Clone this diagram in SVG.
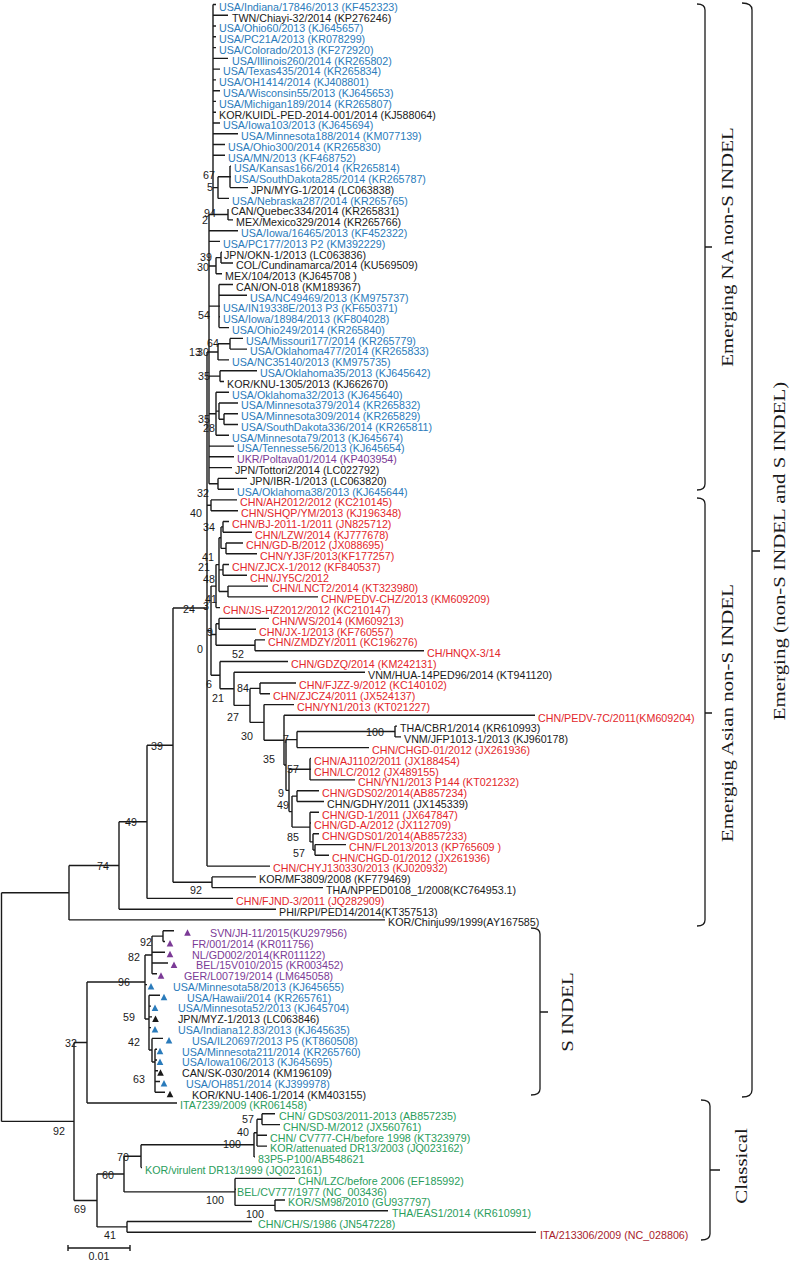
<svg xmlns="http://www.w3.org/2000/svg" width="790" height="1261" viewBox="0 0 790 1261">
<style>
text{font-family:"Liberation Sans",Arial,sans-serif;font-size:10.7px}
.b{fill:#2a7bbb}.r{fill:#e3262b}.k{fill:#1a1a1a}.p{fill:#7b3a96}.g{fill:#2a9d5c}.d{fill:#a81c2c}
.bs text{fill:#1a1a1a}
.clade{font-family:"Liberation Serif","Times New Roman",serif;font-size:17px;fill:#1a1a1a}
.tree{fill:none;stroke:#1a1a1a;stroke-width:1.4}
.br{fill:none;stroke:#1a1a1a;stroke-width:1.3}
</style>
<defs><polygon id="tri" points="-3.3,5 3.3,5 0,-1.5"/></defs>
<rect width="790" height="1261" fill="#fff"/>
<g id="connectors">
<path class="tree" d="M213,4.5V214.5 M213,4.5H216 M213,15.3H228 M213,26H216 M213,36.8H216 M213,47.6H216 M213,58.4H228 M213,69.1H220 M213,79.9H216 M213,90.7H220 M213,101.4H216 M213,112.2H216 M213,123H220 M213,133.7H238 M213,144.5H225 M213,155.3H225
M213,187.6H218 M218,176.8V198.4 M218,176.8H230 M230,166.1V187.6 M230,166.1H231 M230,176.8H231 M230,187.6H248 M218,198.4H229
M209,214.5H228 M228,209.1V219.9 M228,219.9H233
M209,214.5V483.8 M209,230.7H238 M209,241.4H220
M209,266H216 M216,257.6V273.8 M216,257.6H221 M221,252.2V263 M221,252.2H222 M221,263H233 M216,273.8H222
M209,306.1H219 M219,284.5V327.6 M219,284.5H233 M219,295.3H247 M219,306.1H220 M219,316.8H220 M219,327.6H229
M207,352H218 M218,343.8V359.9 M218,343.8H230 M230,338.4V349.1 M230,338.4H243 M230,349.1H247 M218,359.9H229
M209,376.1H220 M220,370.7V381.5 M220,370.7H257 M220,381.5H224
M209,413.8H216 M216,392.2V435.3 M216,392.2H229 M216,411.1H219 M219,403V419.2 M219,403H238 M219,419.2H224 M224,413.8V424.5 M224,413.8H238 M224,424.5H238 M216,435.3H229
M209,446.1H234 M209,456.8H234 M209,467.6H232
M209,483.8H218 M218,478.4V489.2 M218,478.4H247 M218,489.2H234
M207,352V866.1
M207,505.3H211 M211,499.9V510.7 M211,499.9H237 M211,510.7H238
M207,630.6H211 M211,586.1V675.2
M211,586.1H216 M216,564.6V607.6 M216,564.6H219 M219,537.7V591.5 M219,537.7H221 M221,526.9V548.4 M221,526.9H223 M223,521.5V532.2 M223,521.5H229 M223,532.2H252 M221,548.4H226 M226,543V553.8 M226,543H243 M226,553.8H257
M219,569.9H223 M223,564.5V575.3 M223,564.5H229 M223,575.3H247
M219,591.5H228 M228,586.1V596.9 M228,586.1H268 M228,596.9H318
M216,607.6H220
M211,634.5H216 M216,623.8V645.3 M216,623.8H219 M219,618.4V629.2 M219,618.4H269 M219,629.2H256 M216,645.3H255 M255,639.9V650.7 M255,639.9H265 M255,650.7H424
M211,675.2H220 M220,661.5V688.8 M220,661.5H288 M220,688.8H234 M234,672.2V705.4 M234,672.2H365 M234,705.4H250 M250,688.4V722.4 M250,688.4H260 M260,683V693.8 M260,683H296 M260,693.8H270
M250,722.4H264 M264,704.6V740.2 M264,704.6H294 M264,740.2H284 M284,715.3V765 M284,715.3H535
M284,765H286 M286,739.6V790.4 M286,739.6H297 M297,731.5V747.6 M297,731.5H395 M395,726.1V736.9 M395,726.1H397 M395,736.9H401 M297,747.6H369
M286,790.4H289 M289,769.2V811.6 M289,769.2H310 M310,758.4V779.9 M310,758.4H311 M310,769.2H311 M310,779.9H355
M289,811.6H292 M292,796.1V827.1 M292,796.1H297 M297,790.7V801.5 M297,790.7H319 M297,801.5H324
M292,827.1H310 M310,812.3V841.9 M310,812.3H319 M310,823H311 M310,841.9H313 M313,833.8V850 M313,833.8H319 M313,850H315 M315,844.6V855.3 M315,844.6H346 M315,855.3H329
M207,866.1H270
M147,745.2H173 M173,608V882.3 M173,608H207 M173,882.3H212 M212,876.9V887.6 M212,876.9H256 M212,887.6H323
M119,821.8H147 M147,745.2V898.4 M147,898.4H233
M69,865.5H119 M119,821.8V909.2 M119,909.2H276
M1.5,892.7H69 M69,865.5V919.9 M69,919.9H385
M1.5,892.7V1121.4 M1.5,1121.4H74
M74,1042.5V1200.5 M74,1042.5H87 M74,1200.5H97
M87,982V1103 M87,982H145 M87,1103H177
M145,955V1019 M145,955H152 M152,936.1V973.8 M152,936.1H163 M163,930.7V941.5 M163,930.7H174 M163,941.5H165 M152,952.3H165 M152,963H168 M152,973.8H157 M145,984.6H147
M145,1019H149 M149,995.3V1050 M149,995.3H160 M149,1006.1H151 M149,1016.9H152 M149,1027.6H151 M149,1050H152 M152,1038.4V1062 M152,1038.4H163 M152,1062H155 M155,1049.2V1092.3 M155,1049.2H157 M155,1060H157 M155,1070.7H158 M155,1081.5H160 M155,1092.3H165
M97,1174V1226.9 M97,1174H124 M97,1226.9H127
M124,1156.3V1191.9 M124,1156.3H141 M124,1191.9H235
M141,1144.8V1167.6 M141,1144.8H254 M141,1167.6H142
M254,1132.7V1156.9 M254,1132.7H257 M254,1156.9H255
M257,1119.2V1146.1 M257,1119.2H262 M257,1135.3H267 M257,1146.1H267
M262,1113.8V1124.6 M262,1113.8H275 M262,1124.6H280
M235,1178.4V1205.4 M235,1178.4H295 M235,1189.2H236 M235,1205.4H275
M275,1200V1210.7 M275,1200H285 M275,1210.7H388
M127,1221.5V1232.3 M127,1221.5H252 M127,1232.3H536"/>
</g>
<g id="scale-bar"><path class="tree" d="M68,1248H130 M68,1245V1251 M130,1245V1251"/><text class="k" x="99" y="1260" text-anchor="middle">0.01</text></g>
<g id="leaves">
<g id="n1"><text class="b" x="219" y="10.8">USA/Indiana/17846/2013 (KF452323)</text></g>
<g id="n2"><text class="k" x="232" y="21.6">TWN/Chiayi-32/2014 (KP276246)</text></g>
<g id="n3"><text class="b" x="219" y="32.3">USA/Ohio60/2013 (KJ645657)</text></g>
<g id="n4"><text class="b" x="219" y="43.1">USA/PC21A/2013 (KR078299)</text></g>
<g id="n5"><text class="b" x="219" y="53.9">USA/Colorado/2013 (KF272920)</text></g>
<g id="n6"><text class="b" x="232" y="64.7">USA/Illinois260/2014 (KR265802)</text></g>
<g id="n7"><text class="b" x="223" y="75.4">USA/Texas435/2014 (KR265834)</text></g>
<g id="n8"><text class="b" x="219" y="86.2">USA/OH1414/2014 (KJ408801)</text></g>
<g id="n9"><text class="b" x="223" y="97">USA/Wisconsin55/2013 (KJ645653)</text></g>
<g id="n10"><text class="b" x="219" y="107.7">USA/Michigan189/2014 (KR265807)</text></g>
<g id="n11"><text class="k" x="219" y="118.5">KOR/KUIDL-PED-2014-001/2014 (KJ588064)</text></g>
<g id="n12"><text class="b" x="223" y="129.3">USA/Iowa103/2013 (KJ645694)</text></g>
<g id="n13"><text class="b" x="241" y="140">USA/Minnesota188/2014 (KM077139)</text></g>
<g id="n14"><text class="b" x="228" y="150.8">USA/Ohio300/2014 (KR265830)</text></g>
<g id="n15"><text class="b" x="228" y="161.6">USA/MN/2013 (KF468752)</text></g>
<g id="n16"><text class="b" x="234" y="172.4">USA/Kansas166/2014 (KR265814)</text></g>
<g id="n17"><text class="b" x="234" y="183.1">USA/SouthDakota285/2014 (KR265787)</text></g>
<g id="n18"><text class="k" x="251" y="193.9">JPN/MYG-1/2014 (LC063838)</text></g>
<g id="n19"><text class="b" x="232" y="204.7">USA/Nebraska287/2014 (KR265765)</text></g>
<g id="n20"><text class="k" x="231" y="215.4">CAN/Quebec334/2014 (KR265831)</text></g>
<g id="n21"><text class="k" x="236" y="226.2">MEX/Mexico329/2014 (KR265766)</text></g>
<g id="n22"><text class="b" x="241" y="237">USA/Iowa/16465/2013 (KF452322)</text></g>
<g id="n23"><text class="b" x="223" y="247.7">USA/PC177/2013 P2 (KM392229)</text></g>
<g id="n24"><text class="k" x="224" y="258.5">JPN/OKN-1/2013 (LC063836)</text></g>
<g id="n25"><text class="k" x="236" y="269.3">COL/Cundinamarca/2014 (KU569509)</text></g>
<g id="n26"><text class="k" x="225" y="280.1">MEX/104/2013 (KJ645708 )</text></g>
<g id="n27"><text class="k" x="236" y="290.8">CAN/ON-018 (KM189367)</text></g>
<g id="n28"><text class="b" x="250" y="301.6">USA/NC49469/2013 (KM975737)</text></g>
<g id="n29"><text class="b" x="223" y="312.4">USA/IN19338E/2013 P3 (KF650371)</text></g>
<g id="n30"><text class="b" x="223" y="323.1">USA/Iowa/18984/2013 (KF804028)</text></g>
<g id="n31"><text class="b" x="232" y="333.9">USA/Ohio249/2014 (KR265840)</text></g>
<g id="n32"><text class="b" x="246" y="344.7">USA/Missouri177/2014 (KR265779)</text></g>
<g id="n33"><text class="b" x="250" y="355.4">USA/Oklahoma477/2014 (KR265833)</text></g>
<g id="n34"><text class="b" x="232" y="366.2">USA/NC35140/2013 (KM975735)</text></g>
<g id="n35"><text class="b" x="260" y="377">USA/Oklahoma35/2013 (KJ645642)</text></g>
<g id="n36"><text class="k" x="227" y="387.8">KOR/KNU-1305/2013 (KJ662670)</text></g>
<g id="n37"><text class="b" x="232" y="398.5">USA/Oklahoma32/2013 (KJ645640)</text></g>
<g id="n38"><text class="b" x="241" y="409.3">USA/Minnesota379/2014 (KR265832)</text></g>
<g id="n39"><text class="b" x="241" y="420.1">USA/Minnesota309/2014 (KR265829)</text></g>
<g id="n40"><text class="b" x="241" y="430.8">USA/SouthDakota336/2014 (KR265811)</text></g>
<g id="n41"><text class="b" x="232" y="441.6">USA/Minnesota79/2013 (KJ645674)</text></g>
<g id="n42"><text class="b" x="237" y="452.4">USA/Tennesse56/2013 (KJ645654)</text></g>
<g id="n43"><text class="p" x="237" y="463.1">UKR/Poltava01/2014 (KP403954)</text></g>
<g id="n44"><text class="k" x="235" y="473.9">JPN/Tottori2/2014 (LC022792)</text></g>
<g id="n45"><text class="k" x="250" y="484.7">JPN/IBR-1/2013 (LC063820)</text></g>
<g id="n46"><text class="b" x="237" y="495.5">USA/Oklahoma38/2013 (KJ645644)</text></g>
<g id="n47"><text class="r" x="240" y="506.2">CHN/AH2012/2012 (KC210145)</text></g>
<g id="n48"><text class="r" x="241" y="517">CHN/SHQP/YM/2013 (KJ196348)</text></g>
<g id="n49"><text class="r" x="232" y="527.8">CHN/BJ-2011-1/2011 (JN825712)</text></g>
<g id="n50"><text class="r" x="255" y="538.5">CHN/LZW/2014 (KJ777678)</text></g>
<g id="n51"><text class="r" x="246" y="549.3">CHN/GD-B/2012 (JX088695)</text></g>
<g id="n52"><text class="r" x="260" y="560.1">CHN/YJ3F/2013(KF177257)</text></g>
<g id="n53"><text class="r" x="232" y="570.8">CHN/ZJCX-1/2012 (KF840537)</text></g>
<g id="n54"><text class="r" x="250" y="581.6">CHN/JY5C/2012</text></g>
<g id="n55"><text class="r" x="272" y="592.4">CHN/LNCT2/2014 (KT323980)</text></g>
<g id="n56"><text class="r" x="321" y="603.2">CHN/PEDV-CHZ/2013 (KM609209)</text></g>
<g id="n57"><text class="r" x="223" y="613.9">CHN/JS-HZ2012/2012 (KC210147)</text></g>
<g id="n58"><text class="r" x="272" y="624.7">CHN/WS/2014 (KM609213)</text></g>
<g id="n59"><text class="r" x="259" y="635.5">CHN/JX-1/2013 (KF760557)</text></g>
<g id="n60"><text class="r" x="268" y="646.2">CHN/ZMDZY/2011 (KC196276)</text></g>
<g id="n61"><text class="r" x="427" y="657">CH/HNQX-3/14</text></g>
<g id="n62"><text class="r" x="291" y="667.8">CHN/GDZQ/2014 (KM242131)</text></g>
<g id="n63"><text class="k" x="368" y="678.5">VNM/HUA-14PED96/2014 (KT941120)</text></g>
<g id="n64"><text class="r" x="299" y="689.3">CHN/FJZZ-9/2012 (KC140102)</text></g>
<g id="n65"><text class="r" x="273" y="700.1">CHN/ZJCZ4/2011 (JX524137)</text></g>
<g id="n66"><text class="r" x="297" y="710.9">CHN/YN1/2013 (KT021227)</text></g>
<g id="n67"><text class="r" x="538" y="721.6">CHN/PEDV-7C/2011(KM609204)</text></g>
<g id="n68"><text class="k" x="400" y="732.4">THA/CBR1/2014 (KR610993)</text></g>
<g id="n69"><text class="k" x="404" y="743.2">VNM/JFP1013-1/2013 (KJ960178)</text></g>
<g id="n70"><text class="r" x="372" y="753.9">CHN/CHGD-01/2012 (JX261936)</text></g>
<g id="n71"><text class="r" x="314" y="764.7">CHN/AJ1102/2011 (JX188454)</text></g>
<g id="n72"><text class="r" x="314" y="775.5">CHN/LC/2012 (JX489155)</text></g>
<g id="n73"><text class="r" x="358" y="786.2">CHN/YN1/2013 P144 (KT021232)</text></g>
<g id="n74"><text class="r" x="322" y="797">CHN/GDS02/2014(AB857234)</text></g>
<g id="n75"><text class="k" x="327" y="807.8">CHN/GDHY/2011 (JX145339)</text></g>
<g id="n76"><text class="r" x="322" y="818.6">CHN/GD-1/2011 (JX647847)</text></g>
<g id="n77"><text class="r" x="314" y="829.3">CHN/GD-A/2012 (JX112709)</text></g>
<g id="n78"><text class="r" x="322" y="840.1">CHN/GDS01/2014(AB857233)</text></g>
<g id="n79"><text class="r" x="349" y="850.9">CHN/FL2013/2013 (KP765609 )</text></g>
<g id="n80"><text class="r" x="332" y="861.6">CHN/CHGD-01/2012 (JX261936)</text></g>
<g id="n81"><text class="r" x="273" y="872.4">CHN/CHYJ130330/2013 (KJ020932)</text></g>
<g id="n82"><text class="k" x="259" y="883.2">KOR/MF3809/2008 (KF779469)</text></g>
<g id="n83"><text class="k" x="326" y="893.9">THA/NPPED0108_1/2008(KC764953.1)</text></g>
<g id="n84"><text class="r" x="236" y="904.7">CHN/FJND-3/2011 (JQ282909)</text></g>
<g id="n85"><text class="k" x="279" y="915.5">PHI/RPI/PED14/2014(KT357513)</text></g>
<g id="n86"><text class="k" x="388" y="926.2">KOR/Chinju99/1999(AY167585)</text></g>
<g id="n87"><use href="#tri" class="p" x="187.5" y="930.7"/><text class="p" x="210" y="937">SVN/JH-11/2015(KU297956)</text></g>
<g id="n88"><use href="#tri" class="p" x="170" y="941.5"/><text class="p" x="192" y="947.8">FR/001/2014 (KR011756)</text></g>
<g id="n89"><use href="#tri" class="p" x="170" y="952.3"/><text class="p" x="192" y="958.6">NL/GD002/2014(KR011122)</text></g>
<g id="n90"><use href="#tri" class="p" x="174" y="963"/><text class="p" x="196" y="969.3">BEL/15V010/2015 (KR003452)</text></g>
<g id="n91"><use href="#tri" class="p" x="161" y="973.8"/><text class="p" x="184" y="980.1">GER/L00719/2014 (LM645058)</text></g>
<g id="n92"><use href="#tri" class="b" x="151" y="984.6"/><text class="b" x="173" y="990.9">USA/Minnesota58/2013 (KJ645655)</text></g>
<g id="n93"><use href="#tri" class="b" x="164" y="995.3"/><text class="b" x="187" y="1001.6">USA/Hawaii/2014 (KR265761)</text></g>
<g id="n94"><use href="#tri" class="b" x="155" y="1006.1"/><text class="b" x="178" y="1012.4">USA/Minnesota52/2013 (KJ645704)</text></g>
<g id="n95"><use href="#tri" class="k" x="155.5" y="1016.9"/><text class="k" x="178" y="1023.2">JPN/MYZ-1/2013 (LC063846)</text></g>
<g id="n96"><use href="#tri" class="b" x="155" y="1027.6"/><text class="b" x="178" y="1033.9">USA/Indiana12.83/2013 (KJ645635)</text></g>
<g id="n97"><use href="#tri" class="b" x="169" y="1038.4"/><text class="b" x="192" y="1044.7">USA/IL20697/2013 P5 (KT860508)</text></g>
<g id="n98"><use href="#tri" class="b" x="160" y="1049.2"/><text class="b" x="182" y="1055.5">USA/Minnesota211/2014 (KR265760)</text></g>
<g id="n99"><use href="#tri" class="b" x="160" y="1060"/><text class="b" x="182" y="1066.3">USA/Iowa106/2013 (KJ645695)</text></g>
<g id="n100"><use href="#tri" class="k" x="160.5" y="1070.7"/><text class="k" x="182" y="1077">CAN/SK-030/2014 (KM196109)</text></g>
<g id="n101"><use href="#tri" class="b" x="164" y="1081.5"/><text class="b" x="186" y="1087.8">USA/OH851/2014 (KJ399978)</text></g>
<g id="n102"><use href="#tri" class="k" x="170" y="1092.3"/><text class="k" x="192" y="1098.6">KOR/KNU-1406-1/2014 (KM403155)</text></g>
<g id="n103"><text class="g" x="180" y="1109.3">ITA7239/2009 (KR061458)</text></g>
<g id="n104"><text class="g" x="279" y="1120.1">CHN/ GDS03/2011-2013 (AB857235)</text></g>
<g id="n105"><text class="g" x="283" y="1130.9">CHN/SD-M/2012 (JX560761)</text></g>
<g id="n106"><text class="g" x="270" y="1141.6">CHN/ CV777-CH/before 1998 (KT323979)</text></g>
<g id="n107"><text class="g" x="270" y="1152.4">KOR/attenuated DR13/2003 (JQ023162)</text></g>
<g id="n108"><text class="g" x="258" y="1163.2">83P5-P100/AB548621</text></g>
<g id="n109"><text class="g" x="145" y="1173.9">KOR/virulent DR13/1999 (JQ023161)</text></g>
<g id="n110"><text class="g" x="298" y="1184.7">CHN/LZC/before 2006 (EF185992)</text></g>
<g id="n111"><text class="g" x="237" y="1195.5">BEL/CV777/1977 (NC_003436)</text></g>
<g id="n112"><text class="g" x="288" y="1206.3">KOR/SM98/2010 (GU937797)</text></g>
<g id="n113"><text class="g" x="392" y="1217">THA/EAS1/2014 (KR610991)</text></g>
<g id="n114"><text class="g" x="258" y="1227.8">CHN/CH/S/1986 (JN547228)</text></g>
<g id="n115"><text class="d" x="540" y="1238.6">ITA/213306/2009 (NC_028806)</text></g>
</g>
<g id="bootstrap" class="bs">
<text x="203" y="179">67</text><text x="207" y="191">5</text><text x="204" y="217">94</text><text x="202" y="224">2</text>
<text x="200" y="261">39</text><text x="197" y="271">30</text><text x="198" y="319">54</text><text x="207" y="347">64</text>
<text x="189" y="356">13</text><text x="197" y="356">30</text><text x="198" y="380">35</text><text x="198" y="423">35</text>
<text x="203" y="432">28</text><text x="197" y="497">32</text><text x="190" y="517">40</text><text x="203" y="531">34</text>
<text x="202" y="561">41</text><text x="198" y="571">21</text><text x="203" y="583">48</text><text x="205" y="603">41</text>
<text x="203" y="610">3</text><text x="183" y="613">24</text><text x="207" y="636">9</text><text x="197" y="653">0</text>
<text x="232" y="658">52</text><text x="206" y="688">6</text><text x="212" y="702">21</text><text x="237" y="692">84</text>
<text x="227" y="721">27</text><text x="241" y="740">30</text><text x="283" y="743">7</text><text x="366" y="736">100</text>
<text x="263" y="763">35</text><text x="287" y="773">57</text><text x="278" y="797">9</text><text x="277" y="809">49</text>
<text x="287" y="841">85</text><text x="293" y="857">57</text><text x="151" y="750">39</text><text x="125" y="826">49</text>
<text x="97" y="870">74</text><text x="190" y="894">92</text><text x="140" y="946">92</text><text x="128" y="961">82</text>
<text x="118" y="986">96</text><text x="123" y="1021">59</text><text x="128" y="1046">42</text><text x="133" y="1083">63</text>
<text x="65" y="1047">32</text><text x="53" y="1135">92</text><text x="242" y="1123">57</text><text x="237" y="1136">40</text>
<text x="223" y="1148">100</text><text x="117" y="1161">70</text><text x="102" y="1179">60</text><text x="74" y="1213">69</text>
<text x="206" y="1204">100</text><text x="246" y="1218">100</text><text x="104" y="1239">41</text>
</g>
<g id="clade-na"><path class="br" d="M697,4Q705,4 705,10V484Q705,490 697,490 M705,247H712"/><text class="clade" transform="translate(727,247) rotate(-90) scale(1.23,1)" text-anchor="middle" dominant-baseline="central">Emerging NA non-S INDEL</text></g>
<g id="clade-asian"><path class="br" d="M697,498Q705,498 705,504V920Q705,926 697,926 M705,713H712"/><text class="clade" transform="translate(727,713) rotate(-90) scale(1.23,1)" text-anchor="middle" dominant-baseline="central">Emerging Asian non-S INDEL</text></g>
<g id="clade-emerging"><path class="br" d="M742,3Q752,3 752,10V1090Q752,1097 742,1097 M752,551H760"/><text class="clade" transform="translate(779,551) rotate(-90) scale(1.23,1)" text-anchor="middle" dominant-baseline="central">Emerging (non-S INDEL and S INDEL)</text></g>
<g id="clade-sindel"><path class="br" d="M531,928Q540,928 540,934V1089Q540,1095 531,1095 M540,1012H548"/><text class="clade" transform="translate(567,1012) rotate(-90) scale(1.23,1)" text-anchor="middle" dominant-baseline="central">S INDEL</text></g>
<g id="clade-classical"><path class="br" d="M701,1100Q710,1100 710,1106V1234Q710,1240 701,1240 M710,1170H720"/><text class="clade" transform="translate(741,1166) rotate(-90) scale(1.23,1)" text-anchor="middle" dominant-baseline="central">Classical</text></g>
</svg>
